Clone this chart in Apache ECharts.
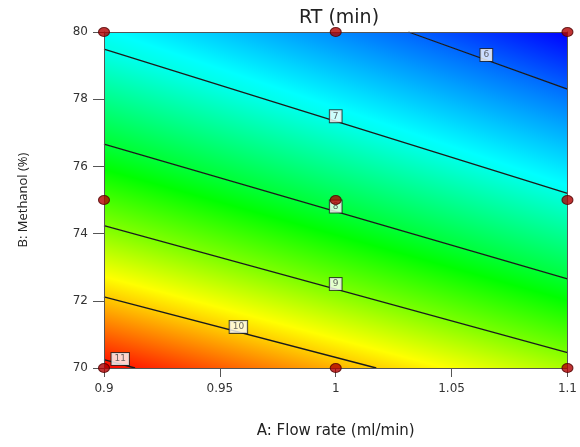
<!DOCTYPE html>
<html><head><meta charset="utf-8">
<script src="https://cdn.jsdelivr.net/npm/echarts@6/dist/echarts.min.js"></script>
<style>html,body{margin:0;padding:0;background:#fff}#c{width:580px;height:447px}</style>
</head><body><div id="c"></div>
<script>
// ---- data ----
const xTicks = [0.9, 0.95, 1, 1.05, 1.1];
const xTickLabels = ['0.9', '0.95', '1', '1.05', '1.1'];
const yTicks = [70, 72, 74, 76, 78, 80];
const designA = [0.9, 0.9, 0.9, 1, 1, 1, 1.1, 1.1, 1.1];
const designB = [70, 75, 80, 70, 75, 80, 70, 75, 80];
const contourLevels = [6, 7, 8, 9, 10, 11];
const contourStart = [[1.0314, 80], [0.9, 79.49], [0.9, 76.66], [0.9, 74.24], [0.9, 72.12], [0.9, 70.25]];
const contourEnd = [[1.1, 78.30], [1.1, 75.20], [1.1, 72.65], [1.1, 70.46], [1.0175, 70], [0.9134, 70]];
const labelA = [1.065, 1.0, 1.0, 1.0, 0.958, 0.907];
const colorScaleValues = [5.45, 6.875, 8.3, 9.725, 11.15];
const colorScaleColors = ['#0000ff', '#00ffff', '#00ff00', '#ffff00', '#ff0000'];

// ---- helpers ----
function lineB(i, A) {
  const s = contourStart[i], e = contourEnd[i];
  return s[1] + (e[1] - s[1]) * (A - s[0]) / (e[0] - s[0]);
}
const nL = contourLevels.length;
const topShift = lineB(0, 1.1) - lineB(1, 1.1);
const botShift = lineB(nL - 2, 0.9) - lineB(nL - 1, 0.9);
function levelB(j, A) {
  if (j === 0) return lineB(0, A) + topShift;
  if (j === nL + 1) return lineB(nL - 1, A) - botShift;
  return lineB(j - 1, A);
}
function levelValue(j) {
  if (j === 0) return contourLevels[0] - 1;
  if (j === nL + 1) return contourLevels[nL - 1] + 1;
  return contourLevels[j - 1];
}
function hex2rgb(h) { return [parseInt(h.substr(1, 2), 16), parseInt(h.substr(3, 2), 16), parseInt(h.substr(5, 2), 16)]; }
function colorAt(v) {
  const vs = colorScaleValues, cs = colorScaleColors.map(hex2rgb);
  if (v <= vs[0]) return 'rgb(' + cs[0].join(',') + ')';
  if (v >= vs[vs.length - 1]) return 'rgb(' + cs[cs.length - 1].join(',') + ')';
  for (let k = 0; k < vs.length - 1; k++) {
    if (v >= vs[k] && v <= vs[k + 1]) {
      const t = (v - vs[k]) / (vs[k + 1] - vs[k]);
      const c = cs[k].map((x, m) => Math.round(x + (cs[k + 1][m] - x) * t));
      return 'rgb(' + c.join(',') + ')';
    }
  }
}
const bandData = [];
for (let j = 0; j <= nL; j++) bandData.push([1.0, 75, j]);

function renderBand(params, api) {
  const j = api.value(2);
  const vLo = levelValue(j), vHi = levelValue(j + 1);
  const Aext = [0.8, 1.2];
  const pts = [api.coord([Aext[0], levelB(j, Aext[0])]), api.coord([Aext[1], levelB(j, Aext[1])]),
               api.coord([Aext[1], levelB(j + 1, Aext[1])]), api.coord([Aext[0], levelB(j + 1, Aext[0])])];
  let sum = 0, cnt = 0;
  for (let k = 0; k <= 40; k++) {
    const A = 0.9 + 0.2 * k / 40;
    const b1 = levelB(j, A), b2 = levelB(j + 1, A);
    if (Math.max(b1, b2) >= 70 && Math.min(b1, b2) <= 80) { sum += A; cnt++; }
  }
  const Ac = cnt ? sum / cnt : 1.0;
  const P0 = api.coord([Ac, levelB(j, Ac)]);
  const a0 = api.coord([0.9, levelB(j, 0.9)]), a1 = api.coord([1.1, levelB(j, 1.1)]);
  const q0 = api.coord([0.9, levelB(j + 1, 0.9)]), q1 = api.coord([1.1, levelB(j + 1, 1.1)]);
  let dx = (a1[0] - a0[0]) + (q1[0] - q0[0]), dy = (a1[1] - a0[1]) + (q1[1] - q0[1]);
  const len = Math.hypot(dx, dy); dx /= len; dy /= len;
  const n = [-dy, dx];
  const e = [q1[0] - q0[0], q1[1] - q0[1]];
  const r = [q0[0] - P0[0], q0[1] - P0[1]];
  const det = -n[0] * e[1] + e[0] * n[1];
  const s = (-r[0] * e[1] + e[0] * r[1]) / det;
  const P1 = [P0[0] + s * n[0], P0[1] + s * n[1]];
  const stops = [{ offset: 0, color: colorAt(vLo) }];
  const lo = Math.min(vLo, vHi), hi = Math.max(vLo, vHi);
  colorScaleValues.forEach(v => {
    if (v > lo && v < hi) stops.push({ offset: (v - vLo) / (vHi - vLo), color: colorAt(v) });
  });
  stops.push({ offset: 1, color: colorAt(vHi) });
  stops.sort((a, b) => a.offset - b.offset);
  return {
    type: 'polygon',
    shape: { points: pts },
    style: { fill: { type: 'linear', x: P0[0], y: P0[1], x2: P1[0], y2: P1[1], global: true, colorStops: stops }, stroke: null }
  };
}

const series = [{
  type: 'custom', coordinateSystem: 'cartesian2d', renderItem: renderBand,
  data: bandData, clip: true, silent: true, z: 1
}];
contourLevels.forEach((lv, i) => {
  series.push({
    type: 'line', data: [contourStart[i], contourEnd[i]], symbol: 'none', silent: true, z: 3,
    lineStyle: { color: '#1a1a1a', width: 1.3 }
  });
});
series.push({
  type: 'scatter', symbolSize: 0, silent: true, z: 5, clip: false,
  data: contourLevels.map((lv, i) => [labelA[i], lineB(i, labelA[i]), lv]),
  label: {
    show: true, position: 'inside', offset: [0, -5], formatter: p => String(p.value[2]),
    backgroundColor: '#fff', borderColor: '#222', borderWidth: 1, padding: [2, 3, 1, 3],
    fontSize: 9, color: '#444', fontFamily: 'DejaVu Sans'
  }
});
series.push({
  type: 'scatter', symbol: 'circle', symbolSize: [11, 9], clip: false, z: 20, silent: true,
  itemStyle: { color: '#b00000', borderColor: '#500000', borderWidth: 1 },
  data: designA.map((a, i) => [a, designB[i]])
});

const axisLineStyle = { show: true, lineStyle: { color: '#555', width: 1 } };
const chart = echarts.init(document.getElementById('c'), null, { renderer: 'canvas' });
chart.setOption({
  animation: false,
  title: {
    text: 'RT (min)', left: 334, top: 4, textAlign: 'center',
    textStyle: { fontSize: 19, fontWeight: 'normal', color: '#222', fontFamily: 'DejaVu Sans' }
  },
  grid: { left: 104, right: 12, top: 32, bottom: 79, containLabel: false },
  xAxis: [{
    type: 'value', min: 0.9, max: 1.1, interval: 0.05, z: 10,
    axisLine: axisLineStyle, axisTick: { show: true, length: 9, lineStyle: { color: '#555' } },
    splitLine: { show: false },
    axisLabel: {
      fontSize: 12, color: '#333', margin: 15, fontFamily: 'DejaVu Sans',
      formatter: v => { const k = xTicks.findIndex(t => Math.abs(t - v) < 1e-6); return k >= 0 ? xTickLabels[k] : ''; }
    },
    name: 'A: Flow rate (ml/min)', nameLocation: 'middle', nameGap: 56,
    nameTextStyle: { fontSize: 15, color: '#222', fontFamily: 'DejaVu Sans' }
  }, {
    type: 'value', position: 'top', min: 0.9, max: 1.1, z: 10,
    axisLine: axisLineStyle, axisTick: { show: false }, axisLabel: { show: false }, splitLine: { show: false }
  }],
  yAxis: [{
    type: 'value', min: 70, max: 80, interval: 2, z: 10,
    axisLine: axisLineStyle, axisTick: { show: true, length: 11, lineStyle: { color: '#555' } },
    splitLine: { show: false },
    axisLabel: {
      fontSize: 12, color: '#333', margin: 16, fontFamily: 'DejaVu Sans', verticalAlign: 'middle', padding: [0, 0, 7, 0],
      formatter: v => yTicks.indexOf(v) >= 0 ? String(v) : ''
    },
    name: 'B: Methanol (%)', nameLocation: 'middle', nameGap: 74,
    nameTextStyle: { fontSize: 13, color: '#222', fontFamily: 'Open Sans' }
  }, {
    type: 'value', position: 'right', min: 70, max: 80, z: 10,
    axisLine: axisLineStyle, axisTick: { show: false }, axisLabel: { show: false }, splitLine: { show: false }
  }],
  series: series
});
</script></body></html>
